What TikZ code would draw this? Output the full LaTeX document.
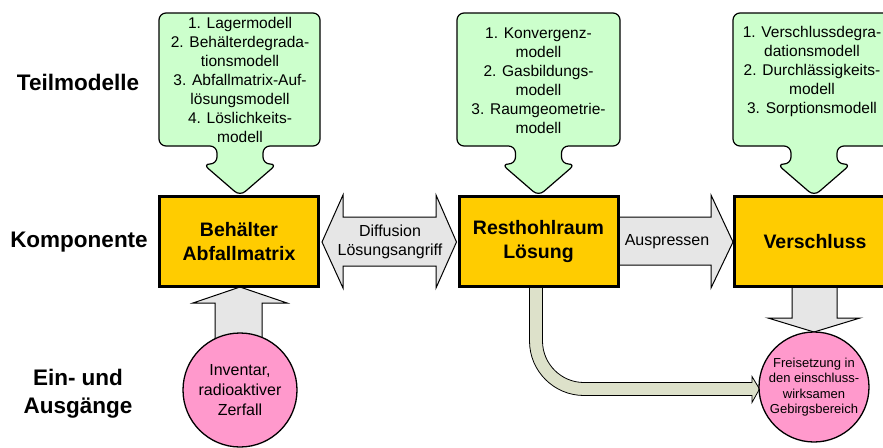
\documentclass[tikz,border=0pt]{standalone}
\usepackage{fontspec}
\setmainfont{Liberation Sans}
\definecolor{calloutgreen}{RGB}{204,255,204}
\definecolor{comporange}{RGB}{255,204,0}
\definecolor{arrowgray}{RGB}{230,230,230}
\definecolor{circlepink}{RGB}{255,153,204}
\definecolor{bandolive}{RGB}{221,225,202}
\begin{document}
\begin{tikzpicture}[x=1pt,y=-1pt,
 callout/.style={draw=black, line width=1.2pt, fill=calloutgreen, rounded corners=7pt},
 blockarrow/.style={draw=black, line width=1pt, fill=arrowgray, line join=miter},
 compbox/.style={draw=black, line width=3pt, fill=comporange, minimum width=159pt, minimum height=90pt, inner sep=0pt, align=center, font=\fontsize{19.5}{24}\selectfont\bfseries},
 pinkcircle/.style={circle, draw=black, line width=1.3pt, fill=circlepink, inner sep=0pt, align=center},
 rowlabel/.style={align=center, font=\fontsize{22.5}{28}\selectfont\bfseries},
 ctext/.style={align=center, font=\fontsize{15.5}{19}\selectfont},
 atext/.style={align=center, font=\fontsize{16}{19}\selectfont},
]
\useasboundingbox (0,0) rectangle (883,447);
\clip (0,0) rectangle (883,447);

% row labels
\node[rowlabel] (l1) at (78,82) {Teilmodelle};
\node[rowlabel] (l2) at (79,242) {Komponente};
\node[rowlabel] (l3) at (78,394) {Ein- und\\Ausgänge};

% curved band from Resthohlraum to release circle
\draw[draw=black, line width=0.8pt, fill=bandolive] (529.5,280) -- (529.5,341) .. controls (529.5,371.1) and (553.9,395.5) .. (584,395.5) -- (752,395.5) -- (752,402.5) -- (759.5,389) -- (752,376.5) -- (752,382.5) -- (584,382.5) .. controls (561.1,382.5) and (542.5,363.9) .. (542.5,341) -- (542.5,280) -- cycle;

% block arrows
\draw[blockarrow] (322,242) -- (343,195) -- (343,217) -- (436,217) -- (436,195) -- (456.5,242) -- (436,288) -- (436,266) -- (343,266) -- (343,288) -- cycle;
\draw[blockarrow] (615,217) -- (711,217) -- (711,195) -- (733,242) -- (711,288) -- (711,265) -- (615,265) -- cycle;
\draw[blockarrow] (215,345) -- (215,303) -- (193,303) -- (240,287) -- (287,303) -- (262,303) -- (262,345) -- cycle;
\draw[blockarrow] (792,280) -- (792,318) -- (768,318) -- (814,332) -- (860,318) -- (837,318) -- (837,280) -- cycle;

% callouts
\draw[callout] (159,13) -- (320,13) -- (320,146) -- (263,146) -- (263,164) -- (277,164) -- (240,196) -- (203,164) -- (217,164) -- (217,146) -- (159,146) -- cycle;
\draw[callout] (457,13) -- (620,13) -- (620,146) -- (561.5,146) -- (561.5,164) -- (575.5,164) -- (538.5,196) -- (501.5,164) -- (515.5,164) -- (515.5,146) -- (457,146) -- cycle;
\draw[callout] (733,13) -- (900,13) -- (900,146) -- (837,146) -- (837,164) -- (851,164) -- (814,196) -- (777,164) -- (791,164) -- (791,146) -- (733,146) -- cycle;

\node[ctext] (t1) at (240,80) {1. Lagermodell\\2. Behälterdegrada-\\tionsmodell\\3. Abfallmatrix-Auf-\\lösungsmodell\\4. Löslichkeits-\\modell};
\node[ctext] (t2) at (538.5,80.5) {1. Konvergenz-\\modell\\2. Gasbildungs-\\modell\\3. Raumgeometrie-\\modell};
\node[ctext] (t3) at (812,71) {1. Verschlussdegra-\\dationsmodell\\2. Durchlässigkeits-\\modell\\3. Sorptionsmodell};

% components
\node[compbox] (b1) at (239,241.5) {Behälter\\Abfallmatrix};
\node[compbox] (b2) at (538.5,241.5) {Resthohlraum\\Lösung};
\node[compbox, minimum width=161pt] (b3) at (815,241.5) {Verschluss};

% arrow labels
\node[atext] (d1) at (390,241.5) {Diffusion\\Lösungsangriff};
\node[atext] (d2) at (667,242) {Auspressen};

% inputs / outputs
\node[pinkcircle, minimum size=114pt, font=\fontsize{16}{20}\selectfont] (c1) at (240,390) {Inventar,\\radioaktiver\\Zerfall};
\node[pinkcircle, minimum size=110pt, font=\fontsize{13}{15.3}\selectfont] (c2) at (814,387) {Freisetzung in\\den einschluss-\\wirksamen\\Gebirgsbereich};
\end{tikzpicture}
\end{document}
